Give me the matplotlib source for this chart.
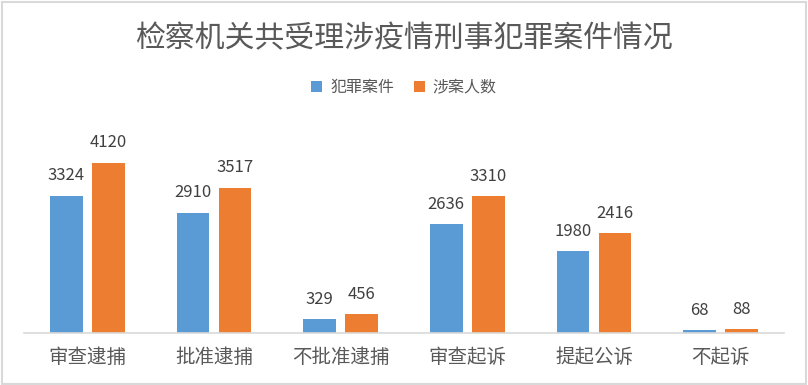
import numpy as np
import matplotlib
matplotlib.use("Agg")
import matplotlib.pyplot as plt
from matplotlib.patches import Rectangle

plt.rcParams["font.family"] = ["Noto Sans CJK SC", "DejaVu Sans"]

categories = ["审查逮捕", "批准逮捕", "不批准逮捕", "审查起诉", "提起公诉", "不起诉"]
cases = [3324, 2910, 329, 2636, 1980, 68]
people = [4120, 3517, 456, 3310, 2416, 88]
series_names = ["犯罪案件", "涉案人数"]

BLUE, ORANGE = "#5B9BD5", "#ED7D31"
GREY_TXT = "#595959"

fig = plt.figure(figsize=(8.08, 3.85), dpi=100)
ax = fig.add_axes([0.0297, 0.135, 0.9406, 0.536])

x = np.arange(len(categories))
w = 0.26
off = 0.166
b1 = ax.bar(x - off, cases, w, color=BLUE, label=series_names[0])
b2 = ax.bar(x + off, people, w, color=ORANGE, label=series_names[1])

for bars in (b1, b2):
    for r in bars:
        ax.text(r.get_x() + r.get_width() / 2, r.get_height() + 280,
                f"{int(r.get_height())}", ha="center", va="bottom",
                fontsize=12, color="#404040")

ax.set_xlim(-0.5, len(categories) - 0.5)
ax.set_ylim(0, 5000)
ax.set_yticks([])
ax.set_xticks(x)
ax.set_xticklabels(categories, fontsize=14, color=GREY_TXT)
ax.tick_params(axis="x", length=0, pad=10)
for s in ("top", "right", "left"):
    ax.spines[s].set_visible(False)
ax.spines["bottom"].set_color("#d9d9d9")
ax.spines["bottom"].set_linewidth(1.2)

fig.text(0.5, 0.9, "检察机关共受理涉疫情刑事犯罪案件情况", ha="center",
         va="center", fontsize=21.5, color=GREY_TXT)
fig.legend(loc="center", bbox_to_anchor=(0.5, 0.772), ncol=2, frameon=False,
           fontsize=11.5, labelcolor=GREY_TXT, handlelength=0.7,
           handleheight=0.7, handletextpad=0.5, columnspacing=1.2)

fig.add_artist(Rectangle((0.002, 0.003), 0.995, 0.993, transform=fig.transFigure,
                         fill=False, edgecolor="#d9d9d9", lw=1.5))

fig.savefig("out.png", dpi=100, facecolor="white")
